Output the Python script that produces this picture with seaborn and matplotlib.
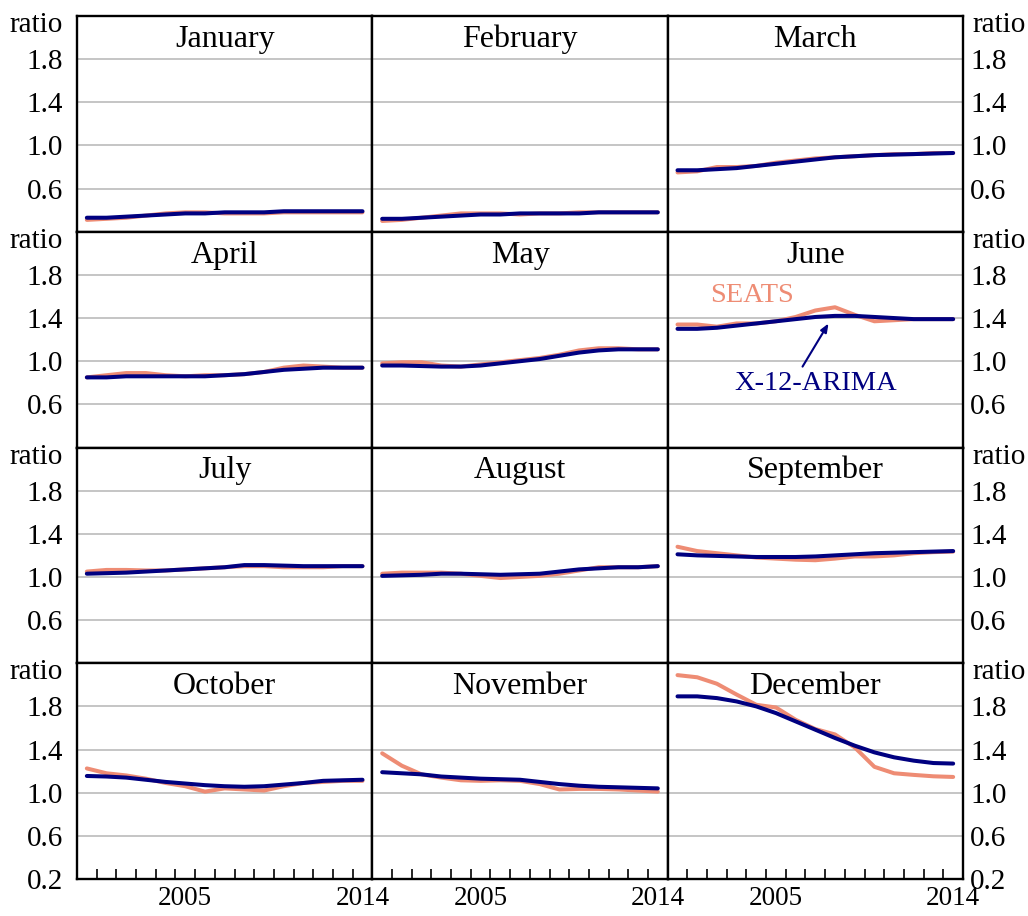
import matplotlib
matplotlib.use("Agg")
import matplotlib.pyplot as plt
import seaborn as sns
import pandas as pd
import numpy as np

# ---------------- data ----------------
years = list(range(2000, 2015))
months = ["January", "February", "March", "April", "May", "June",
          "July", "August", "September", "October", "November", "December"]
methods = ["SEATS", "X-12-ARIMA"]

jan_seats = [0.31, 0.32, 0.33, 0.35, 0.37, 0.38, 0.38, 0.37, 0.37, 0.37, 0.38, 0.38, 0.38, 0.38, 0.38]
jan_x12   = [0.33, 0.33, 0.34, 0.35, 0.36, 0.37, 0.37, 0.38, 0.38, 0.38, 0.39, 0.39, 0.39, 0.39, 0.39]
feb_seats = [0.30, 0.31, 0.33, 0.35, 0.37, 0.37, 0.37, 0.36, 0.37, 0.37, 0.38, 0.38, 0.38, 0.38, 0.38]
feb_x12   = [0.32, 0.32, 0.33, 0.34, 0.35, 0.36, 0.36, 0.37, 0.37, 0.37, 0.37, 0.38, 0.38, 0.38, 0.38]
mar_seats = [0.75, 0.76, 0.80, 0.80, 0.81, 0.84, 0.86, 0.88, 0.89, 0.90, 0.91, 0.92, 0.92, 0.93, 0.93]
mar_x12   = [0.77, 0.77, 0.78, 0.79, 0.81, 0.83, 0.85, 0.87, 0.89, 0.90, 0.91, 0.915, 0.92, 0.925, 0.93]
apr_seats = [0.85, 0.87, 0.89, 0.89, 0.87, 0.86, 0.87, 0.87, 0.88, 0.90, 0.94, 0.96, 0.95, 0.94, 0.94]
apr_x12   = [0.85, 0.85, 0.86, 0.86, 0.86, 0.86, 0.86, 0.87, 0.88, 0.90, 0.92, 0.93, 0.94, 0.94, 0.94]
may_seats = [0.98, 0.99, 0.99, 0.96, 0.95, 0.97, 0.99, 1.01, 1.03, 1.06, 1.10, 1.12, 1.12, 1.11, 1.11]
may_x12   = [0.96, 0.96, 0.955, 0.95, 0.95, 0.96, 0.98, 1.00, 1.02, 1.05, 1.08, 1.10, 1.11, 1.11, 1.11]
jun_seats = [1.34, 1.34, 1.32, 1.35, 1.35, 1.37, 1.41, 1.47, 1.50, 1.43, 1.37, 1.38, 1.39, 1.39, 1.39]
jun_x12   = [1.30, 1.30, 1.31, 1.33, 1.35, 1.37, 1.39, 1.41, 1.42, 1.42, 1.41, 1.40, 1.39, 1.39, 1.39]
jul_seats = [1.05, 1.065, 1.065, 1.06, 1.06, 1.07, 1.08, 1.09, 1.10, 1.10, 1.09, 1.09, 1.09, 1.10, 1.10]
jul_x12   = [1.03, 1.035, 1.04, 1.05, 1.06, 1.07, 1.08, 1.09, 1.11, 1.11, 1.105, 1.10, 1.10, 1.10, 1.10]
aug_seats = [1.03, 1.04, 1.04, 1.04, 1.03, 1.01, 0.99, 1.00, 1.01, 1.03, 1.06, 1.09, 1.09, 1.09, 1.10]
aug_x12   = [1.01, 1.015, 1.02, 1.03, 1.03, 1.025, 1.02, 1.025, 1.03, 1.05, 1.07, 1.08, 1.09, 1.09, 1.10]
sep_seats = [1.28, 1.24, 1.22, 1.20, 1.18, 1.17, 1.16, 1.155, 1.17, 1.19, 1.19, 1.20, 1.22, 1.23, 1.235]
sep_x12   = [1.21, 1.20, 1.195, 1.19, 1.185, 1.185, 1.185, 1.19, 1.20, 1.21, 1.22, 1.225, 1.23, 1.235, 1.24]
oct_seats = [1.225, 1.18, 1.16, 1.13, 1.09, 1.06, 1.01, 1.04, 1.03, 1.02, 1.06, 1.09, 1.10, 1.11, 1.11]
oct_x12   = [1.155, 1.15, 1.14, 1.12, 1.10, 1.085, 1.07, 1.06, 1.055, 1.06, 1.075, 1.09, 1.11, 1.115, 1.12]
nov_seats = [1.365, 1.25, 1.17, 1.14, 1.115, 1.11, 1.115, 1.11, 1.08, 1.03, 1.035, 1.035, 1.03, 1.02, 1.01]
nov_x12   = [1.19, 1.18, 1.17, 1.15, 1.14, 1.13, 1.125, 1.12, 1.10, 1.08, 1.065, 1.055, 1.05, 1.045, 1.04]
dec_seats = [2.09, 2.07, 2.01, 1.91, 1.815, 1.79, 1.676, 1.59, 1.54, 1.42, 1.24, 1.18, 1.165, 1.152, 1.146]
dec_x12   = [1.893, 1.893, 1.877, 1.846, 1.80, 1.738, 1.661, 1.584, 1.507, 1.436, 1.374, 1.328, 1.297, 1.275, 1.27]

seats_all = [jan_seats, feb_seats, mar_seats, apr_seats, may_seats, jun_seats,
             jul_seats, aug_seats, sep_seats, oct_seats, nov_seats, dec_seats]
x12_all = [jan_x12, feb_x12, mar_x12, apr_x12, may_x12, jun_x12,
           jul_x12, aug_x12, sep_x12, oct_x12, nov_x12, dec_x12]

y_ticks = [0.6, 1.0, 1.4, 1.8]
x_labels = [2005, 2014]

rows = []
for m, s_vals, x_vals in zip(months, seats_all, x12_all):
    for y, s, x in zip(years, s_vals, x_vals):
        rows.append({"month": m, "year": y, "method": "SEATS", "ratio": s})
        rows.append({"month": m, "year": y, "method": "X-12-ARIMA", "ratio": x})
df = pd.DataFrame(rows)

# ---------------- style ----------------
sns.set_style("white")
plt.rcParams["font.family"] = ["Liberation Serif", "DejaVu Serif"]
plt.rcParams["text.color"] = "black"
plt.rcParams["xtick.color"] = "black"
plt.rcParams["ytick.color"] = "black"
plt.rcParams["axes.labelcolor"] = "black"

salmon = "#EE8C74"
navy = "#000080"
palette = {"SEATS": salmon, "X-12-ARIMA": navy}
FS = 21

fig, axes = plt.subplots(4, 3, figsize=(10.28, 9.16), dpi=100)
fig.subplots_adjust(left=77 / 1028, right=963 / 1028, top=1 - 16 / 916,
                    bottom=1 - 879 / 916, wspace=0, hspace=0)

for i, ax in enumerate(axes.flat):
    r, c = divmod(i, 3)
    sub = df[df["month"] == months[i]]
    sns.lineplot(data=sub, x="year", y="ratio", hue="method", hue_order=methods,
                 palette=palette, linewidth=2.9, ax=ax, legend=False,
                 estimator=None, sort=True)
    ax.set_xlim(1999.5, 2014.5)
    ax.set_ylim(0.2, 2.2)
    ax.set_xlabel("")
    ax.set_ylabel("")

    yt = sorted(y_ticks + ([0.2] if r == 3 else []))
    ax.set_yticks(yt)
    ax.set_yticklabels([f"{v:.1f}" for v in yt])
    ax.yaxis.grid(True, color="#BBBBBB", linewidth=1.2)
    ax.xaxis.grid(False)
    ax.set_axisbelow(True)
    for s in ax.spines.values():
        s.set_visible(True)
        s.set_color("black")
        s.set_linewidth(1.7)

    ax.tick_params(axis="y", length=0, labelsize=FS,
                   labelleft=(c == 0), labelright=(c == 2),
                   left=False, right=False)
    if c == 0:
        ax.tick_params(axis="y", pad=10)
        ax.text(-0.047, 0.925, "ratio", transform=ax.transAxes, ha="right",
                va="baseline", fontsize=FS)
    elif c == 2:
        ax.tick_params(axis="y", pad=5)
        ax.text(1.032, 0.925, "ratio", transform=ax.transAxes, ha="left",
                va="baseline", fontsize=FS)

    if r == 3:
        ax.set_xticks(x_labels)
        ax.set_xticklabels([str(v) for v in x_labels])
        ax.set_xticks([y + 0.5 for y in years[:-1]], minor=True)
        ax.tick_params(axis="x", which="major", length=0, labelsize=19.5, pad=5)
        ax.tick_params(axis="x", which="minor", direction="in", length=7.5,
                       width=1.2, color="black", bottom=True)
    else:
        ax.set_xticks([])
        ax.tick_params(axis="x", which="both", length=0, labelbottom=False)

    ax.text(0.5, 0.857, months[i], transform=ax.transAxes, ha="center",
            va="baseline", fontsize=23)

# annotations in June panel
ax_jun = axes[1, 2]
ax_jun.text(2003.8, 1.61, "SEATS", color=salmon, ha="center", va="center",
            fontsize=20.5)
ax_jun.text(2007.0, 0.79, "X-12-ARIMA", color=navy, ha="center", va="center",
            fontsize=20.5)
ax_jun.annotate("", xy=(2007.67, 1.35), xytext=(2006.35, 0.95),
                arrowprops=dict(arrowstyle="-|>,head_length=0.5,head_width=0.2",
                                color=navy, lw=1.5, shrinkA=0, shrinkB=0))

fig.savefig("out.png", dpi=100)
